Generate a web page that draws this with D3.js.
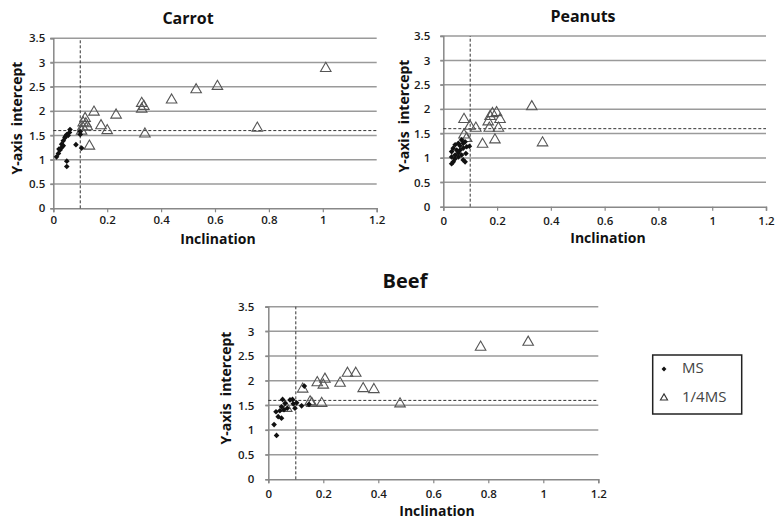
<!DOCTYPE html>
<html>
<head>
<meta charset="utf-8">
<script src="https://cdn.jsdelivr.net/npm/d3@7"></script>
<style>
  html, body { margin: 0; padding: 0; background: #fff; }
  svg { display: block; }
  text { font-family: "Open Sans", "Liberation Sans", Arial, sans-serif; }
</style>
</head>
<body>
<svg id="chart" width="778" height="532"></svg>
<script>
// Axis ticks shared by all panels
const xTicks = [0, 0.2, 0.4, 0.6, 0.8, 1, 1.2];
const yTicks = [0, 0.5, 1, 1.5, 2, 2.5, 3, 3.5];
const xThreshold = 0.1;
const yThreshold = 1.6;

// Carrot
const carrotMsX = [0.012, 0.019, 0.025, 0.021, 0.031, 0.031, 0.037, 0.037, 0.043, 0.05, 0.06, 0.062, 0.05, 0.05, 0.084, 0.1, 0.1, 0.105, 0.055, 0.045];
const carrotMsY = [1.06, 1.13, 1.2, 1.22, 1.25, 1.32, 1.29, 1.39, 1.45, 1.52, 1.56, 1.62, 0.97, 0.86, 1.31, 1.52, 1.58, 1.24, 1.5, 1.48];
const carrotQX = [0.105, 0.109, 0.111, 0.118, 0.121, 0.126, 0.134, 0.151, 0.177, 0.2, 0.233, 0.328, 0.336, 0.328, 0.34, 0.439, 0.53, 0.609, 0.757, 1.011];
const carrotQY = [1.59, 1.67, 1.76, 1.85, 1.74, 1.68, 1.28, 1.98, 1.70, 1.60, 1.92, 2.16, 2.10, 2.04, 1.53, 2.23, 2.44, 2.51, 1.65, 2.88];

// Peanuts
const peanutMsX = [0.031, 0.031, 0.031, 0.037, 0.037, 0.044, 0.044, 0.05, 0.056, 0.056, 0.062, 0.068, 0.068, 0.074, 0.074, 0.074, 0.081, 0.081, 0.084, 0.087, 0.097, 0.056, 0.062, 0.043];
const peanutMsY = [1.13, 1.02, 0.88, 1.20, 0.92, 1.27, 1.06, 1.16, 1.30, 1.02, 1.16, 1.37, 1.06, 1.20, 1.30, 0.96, 0.92, 1.33, 1.09, 1.23, 1.24, 1.10, 1.25, 0.98];
const peanutQX = [0.329, 0.369, 0.146, 0.192, 0.171, 0.205, 0.167, 0.211, 0.174, 0.183, 0.198, 0.077, 0.099, 0.121, 0.077, 0.087];
const peanutQY = [2.05, 1.31, 1.28, 1.37, 1.61, 1.61, 1.74, 1.79, 1.85, 1.91, 1.93, 1.79, 1.65, 1.61, 1.47, 1.40];

// Beef
const beefMsX = [0.021, 0.03, 0.028, 0.036, 0.048, 0.052, 0.048, 0.061, 0.069, 0.088, 0.091, 0.097, 0.103, 0.121, 0.148, 0.131, 0.042, 0.079, 0.057];
const beefMsY = [1.11, 0.89, 1.37, 1.27, 1.24, 1.62, 1.47, 1.54, 1.44, 1.62, 1.53, 1.44, 1.55, 1.49, 1.52, 1.89, 1.39, 1.61, 1.41];
const beefQX = [0.945, 0.772, 0.479, 0.384, 0.345, 0.318, 0.288, 0.261, 0.206, 0.2, 0.178, 0.194, 0.158, 0.125, 0.067, 0.152];
const beefQY = [2.78, 2.68, 1.53, 1.82, 1.84, 2.15, 2.15, 1.95, 2.03, 1.91, 1.96, 1.54, 1.54, 1.83, 1.44, 1.57];

const legendLabels = ["MS", "1/4MS"];

const panels = [
  { title: "Carrot", msX: carrotMsX, msY: carrotMsY, qX: carrotQX, qY: carrotQY,
    left: 53.3, right: 376.7, top: 38.3, bottom: 208.3,
    titleX: 188, titleY: 20, titleSize: 16, yLabelGap: 8, xLabelGap: 13,
    yTitleX: 18, yTitleY: 118, xTitleX: 218, xTitleY: 240 },
  { title: "Peanuts", msX: peanutMsX, msY: peanutMsY, qX: peanutQX, qY: peanutQY,
    left: 443.3, right: 766, top: 36, bottom: 206.7,
    titleX: 583, titleY: 18, titleSize: 16, yLabelGap: 13, xLabelGap: 15,
    yTitleX: 405, yTitleY: 116, xTitleX: 608, xTitleY: 239 },
  { title: "Beef", msX: beefMsX, msY: beefMsY, qX: beefQX, qY: beefQY,
    left: 268.3, right: 598.3, top: 306.7, bottom: 479.3,
    titleX: 405, titleY: 283, titleSize: 20, yLabelGap: 14, xLabelGap: 16,
    yTitleX: 227, yTitleY: 388, xTitleX: 437, xTitleY: 512 }
];

const svg = d3.select("#chart");
// small compact diamond: a square turned 45 degrees
const diamond = d3.symbol().type(d3.symbolSquare).size(16);
const triangle = d3.symbol().type(d3.symbolTriangle).size(48);

panels.forEach(p => {
  const x = d3.scaleLinear().domain([0, 1.2]).range([p.left, p.right]);
  const y = d3.scaleLinear().domain([0, 3.5]).range([p.bottom, p.top]);
  const g = svg.append("g");

  // horizontal grid lines
  g.append("g").selectAll("line").data(yTicks.filter(v => v > 0)).join("line")
    .attr("x1", x(0) - 3).attr("x2", x(1.2))
    .attr("y1", d => y(d)).attr("y2", d => y(d))
    .attr("stroke", "#9a9a9a").attr("stroke-width", 1.5);

  // axes
  const yAxis = g.append("g").attr("transform", `translate(${x(0)},0)`)
    .call(d3.axisLeft(y).tickValues(yTicks).tickSize(3).tickPadding(p.yLabelGap - 3).tickFormat(d3.format("")));
  const xAxis = g.append("g").attr("transform", `translate(0,${y(0)})`)
    .call(d3.axisBottom(x).tickValues(xTicks).tickSize(4).tickPadding(p.xLabelGap - 9).tickFormat(d3.format("")));
  [yAxis, xAxis].forEach(a => {
    a.select(".domain").attr("stroke", "#888").attr("stroke-width", 1.5);
    a.selectAll(".tick line").attr("stroke", "#888").attr("stroke-width", 1.2);
    a.selectAll(".tick text").attr("fill", "#1a1a1a").style("font-size", "11.5px").style("font-weight", "600");
  });

  // threshold lines
  g.append("line")
    .attr("x1", x(0)).attr("x2", x(1.2))
    .attr("y1", y(yThreshold)).attr("y2", y(yThreshold))
    .attr("stroke", "#333").attr("stroke-width", 1).attr("stroke-dasharray", "3,2");
  g.append("line")
    .attr("x1", x(xThreshold)).attr("x2", x(xThreshold))
    .attr("y1", y(0)).attr("y2", y(3.5))
    .attr("stroke", "#333").attr("stroke-width", 1).attr("stroke-dasharray", "3,2");

  // 1/4MS series: open triangles
  g.append("g").selectAll("path").data(p.qX.map((v, i) => [v, p.qY[i]])).join("path")
    .attr("d", triangle)
    .attr("transform", d => `translate(${x(d[0])},${y(d[1])})`)
    .attr("fill", "none").attr("stroke", "#555").attr("stroke-width", 1.1);

  // MS series: filled diamonds
  g.append("g").selectAll("path").data(p.msX.map((v, i) => [v, p.msY[i]])).join("path")
    .attr("d", diamond)
    .attr("transform", d => `translate(${x(d[0])},${y(d[1])}) rotate(45)`)
    .attr("fill", "#111");

  // titles
  g.append("text").attr("x", p.titleX).attr("y", p.titleY)
    .attr("text-anchor", "middle").attr("dominant-baseline", "middle")
    .style("font-size", p.titleSize + "px").style("font-weight", "bold").attr("fill", "#111")
    .text(p.title);
  g.append("text").attr("x", p.xTitleX).attr("y", p.xTitleY)
    .attr("text-anchor", "middle").attr("dominant-baseline", "middle")
    .style("font-size", "14px").style("font-weight", "bold").attr("fill", "#111")
    .text("Inclination");
  g.append("text")
    .attr("transform", `translate(${p.yTitleX},${p.yTitleY}) rotate(-90)`)
    .attr("text-anchor", "middle").attr("dominant-baseline", "middle")
    .style("font-size", "14px").style("font-weight", "bold").attr("fill", "#111")
    .attr("xml:space", "preserve")
    .text("Y-axis  intercept");
});

// legend
const legend = svg.append("g");
legend.append("rect")
  .attr("x", 652.7).attr("y", 355).attr("width", 89).attr("height", 59)
  .attr("fill", "#fff").attr("stroke", "#222").attr("stroke-width", 1.5);
const legendRows = legend.selectAll("g.row").data(legendLabels).join("g")
  .attr("class", "row")
  .attr("transform", (d, i) => `translate(664,${369 + i * 29})`);
legendRows.append("path")
  .attr("d", (d, i) => i === 0 ? d3.symbol().type(d3.symbolSquare).size(12)() : d3.symbol().type(d3.symbolTriangle).size(22)())
  .attr("transform", (d, i) => i === 0 ? "rotate(45)" : null)
  .attr("fill", (d, i) => i === 0 ? "#111" : "none")
  .attr("stroke", (d, i) => i === 0 ? "none" : "#333")
  .attr("stroke-width", 1.1);
legendRows.append("text")
  .attr("x", 18).attr("y", 0).attr("dominant-baseline", "middle")
  .style("font-size", "15px").attr("fill", "#444")
  .text(d => d);
</script>
</body>
</html>
